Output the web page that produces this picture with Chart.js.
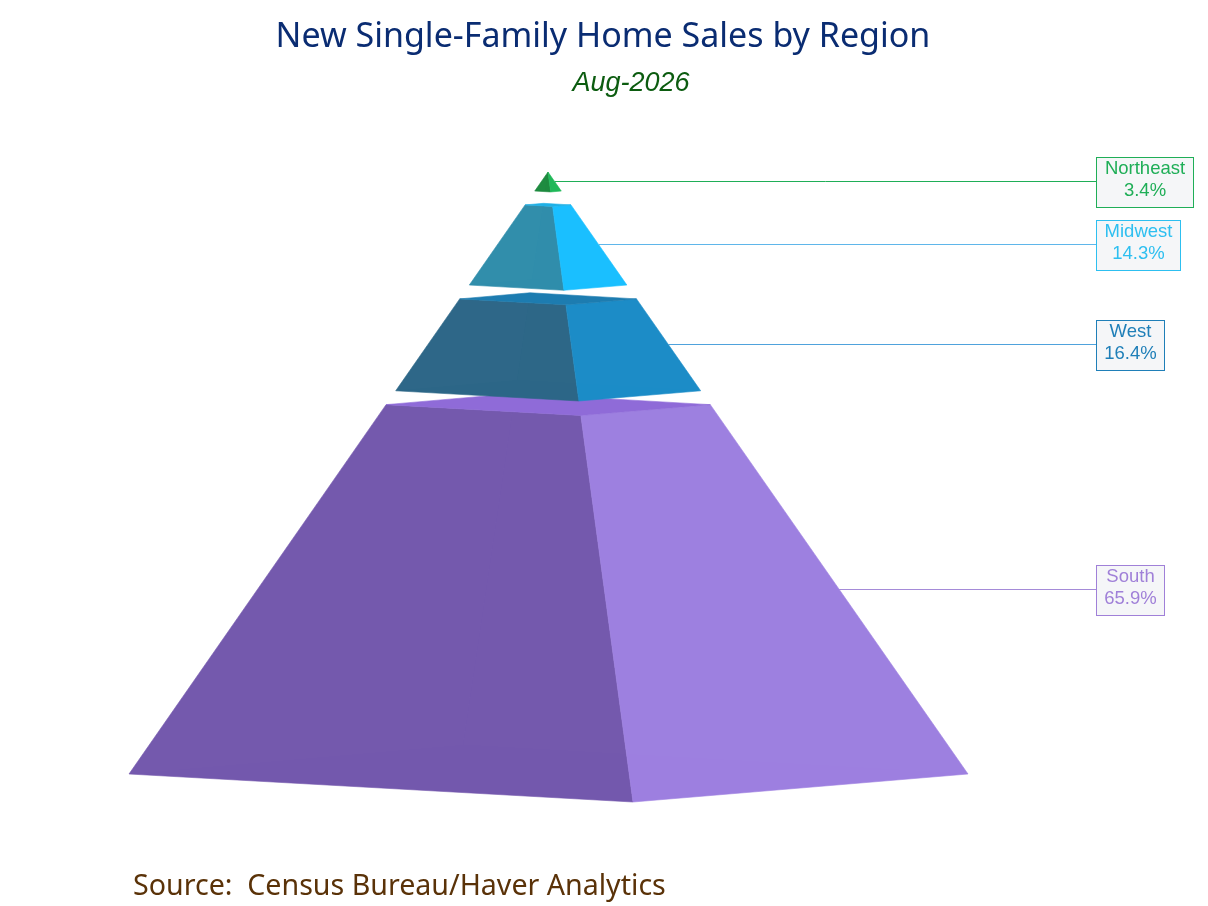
<!DOCTYPE html>
<html>
<head>
<meta charset="utf-8">
<title>New Single-Family Home Sales by Region</title>
<script src="https://cdn.jsdelivr.net/npm/chart.js@4"></script>
<style>
  html, body { margin: 0; padding: 0; background: #fff; }
  canvas { display: block; }
</style>
</head>
<body>
<canvas id="pyramid" width="1208" height="906"></canvas>
<script>
// data, top of the pyramid first
const regions = ["Northeast", "Midwest", "West", "South"];
const shares = [3.4, 14.3, 16.4, 65.9];

// colours per region
const leftColors = ["#1c8a3e", "#2f8dab", "#2c6687", "#7358ad"];
const rightColors = ["#1fb858", "#19bfff", "#1b8cc7", "#9d7fe0"];
const topColors = ["#1fb858", "#1fb0e6", "#1d7cb0", "#8f6bd8"];
const labelColors = ["#1fae57", "#2dbff0", "#1f7fb8", "#a080d8"];
const lineColors = ["#1fae57", "#5fb6ea", "#4fa2dc", "#a58bd8"];

// pyramid layout in canvas units
const apex = { x: 548, y: 172 };
const cornerLeft = { x: 129, y: 774 };
const cornerFront = { x: 633, y: 802 };
const cornerRight = { x: 968, y: 774 };
const cornerBack = { x: 463, y: 745 };
const gap = 0.023;

const boxLeft = 1096;
const boxWidths = [97, 84, 68, 68];
const boxHeight = 50;

function at(corner, t) {
  return { x: apex.x + (corner.x - apex.x) * t, y: apex.y + (corner.y - apex.y) * t };
}

function face(corner1, corner2, t0, t1) {
  const first = at(corner1, t0);
  return [first, at(corner2, t0), at(corner2, t1), at(corner1, t1), first];
}

function polygon(points, color, edge) {
  return {
    data: points,
    showLine: true,
    fill: "shape",
    backgroundColor: color,
    borderColor: color,
    borderWidth: edge,
    pointRadius: 0,
    tension: 0
  };
}

const total = shares.reduce((a, b) => a + b, 0);
const bands = [];
let pos = 0;
shares.forEach((s) => {
  const h = (s / total) * (1 - gap * (shares.length - 1));
  bands.push({ t0: pos, t1: pos + h });
  pos += h + gap;
});

// paint order: bottom band first
const layers = [];
for (let i = regions.length - 1; i >= 0; i--) {
  const { t0, t1 } = bands[i];
  layers.push(polygon(face(cornerLeft, cornerFront, t0, t1), leftColors[i], 0.6));
  layers.push(polygon(face(cornerFront, cornerRight, t0, t1), rightColors[i], 0.6));
  // hidden faces only just show through
  layers.push(polygon(face(cornerLeft, cornerBack, t0, t1), "rgba(255,255,255,0.012)", 0));
  layers.push(polygon(face(cornerBack, cornerRight, t0, t1), "rgba(255,255,255,0.008)", 0));
  if (t0 > 0) {
    const a = at(cornerLeft, t0);
    layers.push(polygon([a, at(cornerBack, t0), at(cornerRight, t0), at(cornerFront, t0), a], topColors[i], 0.6));
  }
}

// leader lines from the right edge of each band to its box
const leaderY = [];
bands.forEach((b, i) => {
  const mid = at(cornerRight, (b.t0 + b.t1) / 2);
  const y = Math.floor(mid.y) + 0.5;
  leaderY.push(y);
  layers.unshift({
    data: [{ x: mid.x, y: y }, { x: boxLeft, y: y }],
    showLine: true,
    borderColor: lineColors[i],
    borderWidth: 1,
    pointRadius: 0
  });
});

const textPlugin = {
  id: "texts",
  afterDraw(chart) {
    const { ctx, scales } = chart;
    ctx.save();
    ctx.textBaseline = "alphabetic";

    ctx.textAlign = "center";
    ctx.fillStyle = "#0a2c72";
    ctx.font = '34px "Noto Sans"';
    ctx.fillText("New Single-Family Home Sales by Region", 603, 47);
    ctx.fillStyle = "#0c5c10";
    ctx.font = 'italic 27px "Liberation Sans"';
    ctx.fillText("Aug-2026", 631, 91);

    ctx.textAlign = "left";
    ctx.fillStyle = "#5a3208";
    ctx.font = '28.6px "Noto Sans"';
    ctx.fillText("Source:  Census Bureau/Haver Analytics", 133, 895);

    ctx.textAlign = "center";
    ctx.font = '18.5px "Liberation Sans"';
    regions.forEach((name, i) => {
      const x = scales.x.getPixelForValue(boxLeft);
      const y = scales.y.getPixelForValue(leaderY[i]);
      const top = Math.round(y - boxHeight / 2) + 0.5;
      ctx.fillStyle = "#f5f6f8";
      ctx.fillRect(x, top, boxWidths[i], boxHeight);
      ctx.strokeStyle = labelColors[i];
      ctx.lineWidth = 1;
      ctx.strokeRect(x + 0.5, top, boxWidths[i], boxHeight);
      ctx.fillStyle = labelColors[i];
      ctx.fillText(name, x + boxWidths[i] / 2 + 0.5, top + 16);
      ctx.fillText(shares[i].toFixed(1) + "%", x + boxWidths[i] / 2 + 0.5, top + 38);
    });
    ctx.restore();
  }
};

new Chart(document.getElementById("pyramid"), {
  type: "scatter",
  data: { datasets: layers.reverse() },
  options: {
    responsive: false,
    animation: false,
    devicePixelRatio: 1,
    layout: { padding: 0 },
    plugins: {
      legend: { display: false },
      tooltip: { enabled: false }
    },
    scales: {
      x: { type: "linear", min: 0, max: 1208, display: false },
      y: { type: "linear", min: 0, max: 906, reverse: true, display: false }
    }
  },
  plugins: [textPlugin]
});
</script>
</body>
</html>
